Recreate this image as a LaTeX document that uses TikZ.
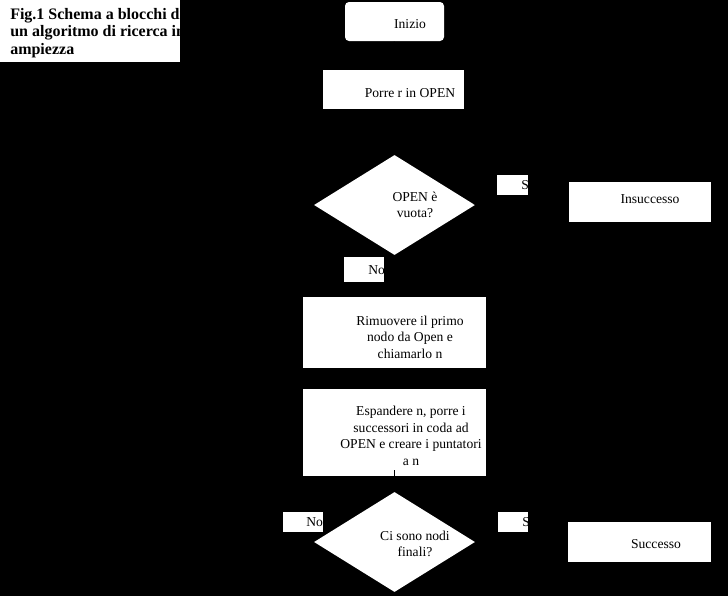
\documentclass[tikz,border=0pt]{standalone}
\usepackage{fontspec}
\setmainfont{Liberation Serif}
\usetikzlibrary{shapes.geometric}
\usetikzlibrary{arrows}

\tikzset{
  blocco/.style={fill=white, rectangle, inner sep=0pt},
  rombo/.style={fill=white, diamond, inner sep=0pt},
  testo/.style={text=black, align=center, inner sep=0pt, font=\fontsize{10.2}{12.4}\selectfont},
  linea/.style={->, black, thin}
}

\begin{document}
\begin{tikzpicture}[x=0.75pt,y=-0.75pt]
\fill[black] (0,0) rectangle (728,596);

% titolo
\node[blocco, minimum width={180*0.75pt}, minimum height={62*0.75pt}] (titolo) at (90,31) {};
\begin{scope}
\clip (0,0) rectangle (180,62);
\node[anchor=north west, align=left, inner sep=0pt, font=\bfseries\fontsize{12}{13.1}\selectfont] (titoloT) at (10,8) {Fig.1 Schema a blocchi di\\un algoritmo di ricerca in\\ampiezza};
\end{scope}

\node[blocco, rounded corners=3pt, minimum width={99*0.75pt}, minimum height={39*0.75pt}] (inizio) at (394.5,21.5) {};
\node[testo] (inizioT) at (410,24) {Inizio};

\node[blocco, minimum width={141*0.75pt}, minimum height={39*0.75pt}] (porre) at (393.5,89.5) {};
\node[testo] (porreT) at (410,93) {Porre r in OPEN};

\node[rombo, minimum width={161*0.75pt}, minimum height={100*0.75pt}] (vuota) at (394.5,205) {};
\node[testo] (vuotaT) at (415,205) {OPEN è\\vuota?};

\node[blocco, minimum width={31*0.75pt}, minimum height={20*0.75pt}] (si1) at (512.5,184.5) {};
\begin{scope}
\clip (497,174) rectangle (528,195);
\node[testo, anchor=west] (si1T) at (521,185) {Sì};
\end{scope}

\node[blocco, minimum width={142*0.75pt}, minimum height={40*0.75pt}] (insuccesso) at (640,202) {};
\node[testo] (insuccessoT) at (650,199) {Insuccesso};

\node[blocco, minimum width={40*0.75pt}, minimum height={25*0.75pt}] (no1) at (364,269.5) {};
\begin{scope}
\clip (344,257) rectangle (384,282);
\node[testo, anchor=west] (no1T) at (368,270) {No};
\end{scope}

\node[blocco, minimum width={183*0.75pt}, minimum height={71*0.75pt}] (rimuovere) at (394.5,332.5) {};
\node[testo] (rimuovereT) at (410,337) {Rimuovere il primo\\nodo da Open e\\chiamarlo n};

\node[blocco, minimum width={183*0.75pt}, minimum height={87*0.75pt}] (espandere) at (394.5,432.5) {};
\node[testo] (espandereT) at (411,436) {Espandere n, porre i\\successori in coda ad\\OPEN e creare i puntatori\\a n};
\coordinate (uscita) at (394.5,470);

\node[rombo, minimum width={161*0.75pt}, minimum height={100*0.75pt}] (finali) at (394.5,542) {};
\node[testo] (finaliT) at (415,544) {Ci sono nodi\\finali?};

\node[blocco, minimum width={40*0.75pt}, minimum height={20*0.75pt}] (no2) at (303,522) {};
\begin{scope}
\clip (283,512) rectangle (323,532);
\node[testo, anchor=west] (no2T) at (306,522) {No};
\end{scope}

\node[blocco, minimum width={30*0.75pt}, minimum height={20*0.75pt}] (si2) at (513,522) {};
\begin{scope}
\clip (498,512) rectangle (528,532);
\node[testo, anchor=west] (si2T) at (522,522) {Sì};
\end{scope}

\node[blocco, minimum width={143*0.75pt}, minimum height={40*0.75pt}] (successo) at (639.5,542) {};
\node[testo] (successoT) at (656,544) {Successo};

% collegamenti
\draw[linea] (inizio) -- (porre);
\draw[linea] (porre) -- (vuota);
\draw[linea] (vuota) -- (insuccesso);
\draw[linea] (vuota) -- (rimuovere);
\draw[linea] (rimuovere) -- (espandere);
\draw[linea] (uscita) -- (finali);
\draw[linea] (finali) -- (successo);
\draw[linea] (finali.west) -- ++(-54,0) |- (vuota.west);

\end{tikzpicture}
\end{document}
